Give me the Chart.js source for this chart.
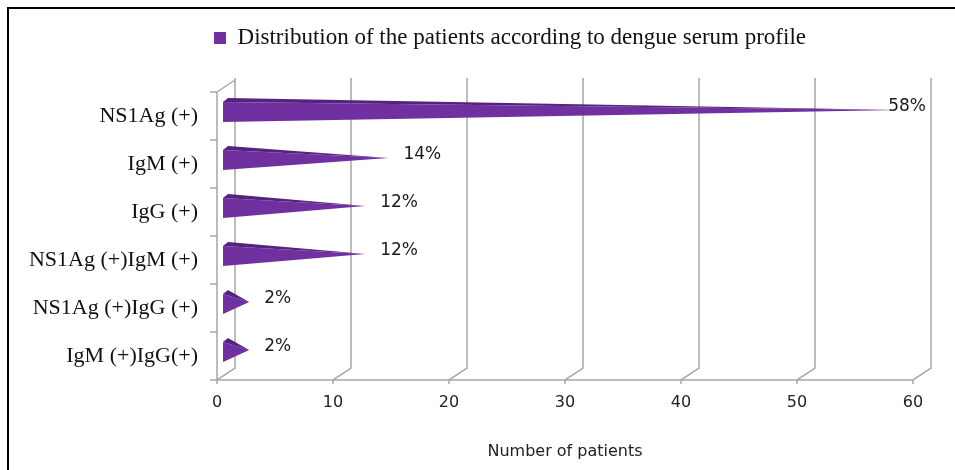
<!DOCTYPE html>
<html><head><meta charset="utf-8">
<script src="https://cdn.jsdelivr.net/npm/chart.js@4/dist/chart.umd.min.js"></script>
<style>html,body{margin:0;padding:0;background:#fff;}#wrap{width:955px;height:470px;}</style>
</head><body><div id="wrap"><canvas id="c" width="955" height="470"></canvas></div>
<script>
const categories = ['NS1Ag (+)', 'IgM (+)', 'IgG (+)', 'NS1Ag (+)IgM (+)', 'NS1Ag (+)IgG (+)', 'IgM (+)IgG(+)'];
const patients = [58, 14, 12, 12, 2, 2];
const percentLabels = ['58%', '14%', '12%', '12%', '2%', '2%'];
const xTickValues = [0, 10, 20, 30, 40, 50, 60];
const seriesName = 'Distribution of the patients according to dengue serum profile';
const xAxisTitle = 'Number of patients';

const DX = 18, DY = -12;
const FRONT = '#7030A0', TOP = '#55227E', GRID = '#A6A6A6';

const pyramid3d = {
  id: 'pyramid3d',
  beforeDraw(chart) {
    const ctx = chart.ctx;
    ctx.save(); ctx.fillStyle = '#fff'; ctx.fillRect(0, 0, chart.width, chart.height); ctx.restore();
  },
  beforeDatasetsDraw(chart) {
    const {ctx, chartArea: a, scales: {x, y}} = chart;
    ctx.save();
    ctx.strokeStyle = GRID; ctx.lineWidth = 1.5;
    ctx.beginPath();
    xTickValues.forEach(v => {
      const px = x.getPixelForValue(v);
      ctx.moveTo(px, a.bottom + 4); ctx.lineTo(px, a.bottom);
      ctx.lineTo(px + DX, a.bottom + DY); ctx.lineTo(px + DX, a.top + DY - 2);
    });
    const x0 = x.getPixelForValue(0);
    ctx.moveTo(x0, a.top); ctx.lineTo(x0 + DX, a.top + DY);
    ctx.moveTo(x0, a.top); ctx.lineTo(x0, a.bottom);
    ctx.lineTo(x.getPixelForValue(xTickValues[xTickValues.length - 1]), a.bottom);
    const half = (y.getPixelForValue(1) - y.getPixelForValue(0)) / 2;
    for (let i = 0; i <= categories.length; i++) {
      const py = i < categories.length ? y.getPixelForValue(i) - half : y.getPixelForValue(i - 1) + half;
      ctx.moveTo(x0 - 7, py); ctx.lineTo(x0, py);
    }
    ctx.stroke();
    ctx.restore();
  },
  beforeDatasetDraw() { return false; },
  afterDatasetsDraw(chart) {
    const {ctx, scales: {x}} = chart;
    const meta = chart.getDatasetMeta(0);
    const rightEdge = x.getPixelForValue(xTickValues[xTickValues.length - 1]) + DX;
    ctx.save();
    meta.data.forEach((el, i) => {
      const {x: xv, y: yc, base: xb} = el.getProps(['x', 'y', 'base'], true);
      const A = [xb + 6, yc - 14], B = [xb + 11, yc - 18], C = [xv + 9, yc - 6], D = [xb + 6, yc + 6];
      ctx.fillStyle = FRONT;
      ctx.beginPath(); ctx.moveTo(A[0], A[1]); ctx.lineTo(C[0], C[1]); ctx.lineTo(D[0], D[1]); ctx.closePath(); ctx.fill();
      ctx.fillStyle = TOP;
      ctx.beginPath(); ctx.moveTo(A[0], A[1]); ctx.lineTo(B[0], B[1]); ctx.lineTo(C[0], C[1]); ctx.closePath(); ctx.fill();
      ctx.font = '17px "DejaVu Sans"';
      ctx.fillStyle = '#1a1a1a';
      ctx.textBaseline = 'middle'; ctx.textAlign = 'left';
      const t = percentLabels[i];
      const w = ctx.measureText(t).width;
      const lx = Math.min(xv + 24, rightEdge - w - 5);
      ctx.fillText(t, lx, yc - 9);
    });
    ctx.restore();
  },
  afterDraw(chart) {
    const ctx = chart.ctx;
    ctx.save();
    ctx.strokeStyle = '#000'; ctx.lineWidth = 2;
    ctx.beginPath(); ctx.moveTo(8, chart.height); ctx.lineTo(8, 8); ctx.lineTo(chart.width, 8); ctx.stroke();
    ctx.restore();
  }
};

new Chart(document.getElementById('c'), {
  type: 'bar',
  data: {
    labels: categories,
    datasets: [{ label: seriesName, data: patients, backgroundColor: FRONT, borderWidth: 0 }]
  },
  options: {
    indexAxis: 'y',
    responsive: false,
    animation: false,
    devicePixelRatio: 1,
    layout: { padding: { top: 16.5, left: 10, right: -55, bottom: 0 } },
    plugins: {
      legend: {
        display: true, position: 'top',
        labels: { boxWidth: 12, boxHeight: 12, padding: 10, color: '#111',
          font: { family: '"Liberation Serif", "Times New Roman", serif', size: 23 } }
      },
      title: { display: true, text: '', weight: 500, padding: { top: 0, bottom: 20.5 }, font: { size: 10 } },
      tooltip: { enabled: false }
    },
    scales: {
      x: {
        type: 'linear', min: 0, max: 60,
        grid: { display: false, drawTicks: false },
        border: { display: false },
        ticks: { stepSize: 10, padding: 13, color: '#222', font: { family: '"DejaVu Sans"', size: 16 } },
        title: { display: true, text: xAxisTitle, color: '#222', padding: { top: 0, bottom: 9 },
          font: { family: '"DejaVu Sans"', size: 16 } },
        afterFit(s) { s.height = 90; }
      },
      y: {
        type: 'category',
        grid: { display: false, drawTicks: false },
        border: { display: false },
        ticks: { padding: 19, color: '#111', font: { family: '"Liberation Serif", "Times New Roman", serif', size: 22 } },
        afterFit(s) { s.width = 207; }
      },
      ySpacer: {
        type: 'linear', axis: 'y', position: 'right', display: true,
        grid: { display: false, drawTicks: false },
        border: { display: false },
        ticks: { display: false },
        afterFit(s) { s.width = 97; }
      }
    }
  },
  plugins: [pyramid3d]
});
</script>
</body></html>
